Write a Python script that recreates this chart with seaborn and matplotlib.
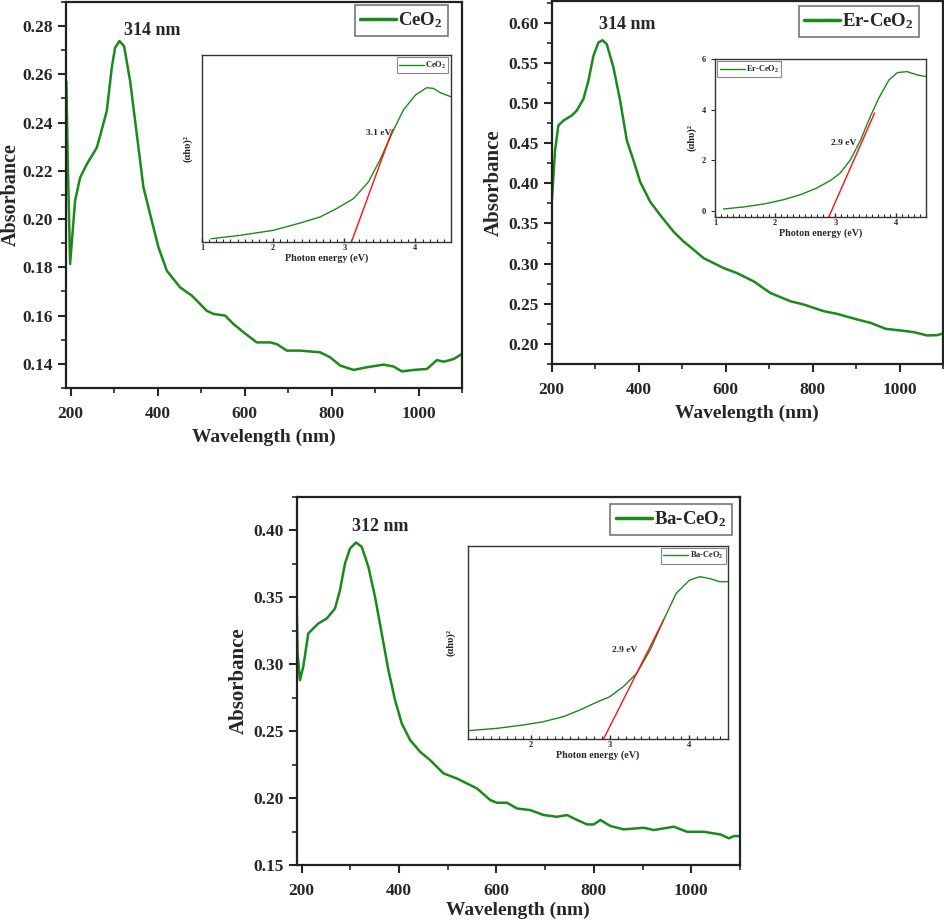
import numpy as np
import pandas as pd
import seaborn as sns
import matplotlib.pyplot as plt
from matplotlib.ticker import MultipleLocator, AutoMinorLocator, NullLocator

# ---- UV-Vis absorbance spectra ----
ceo2_wl = [190, 193, 198.5, 210, 221.5, 236.8, 259.8, 267.5, 282.9, 294.4, 302, 312, 322.7, 336.6,
           351.9, 367.3, 386.4, 401.8, 421, 451.6, 478.5, 513, 528.3, 555.2, 574.4, 597.4, 628,
           658.8, 674, 697, 727.8, 773.8, 796.8, 819.9, 850.6, 881.2, 919.6, 942.6, 961.8, 988.6,
           1019.3, 1042.3, 1057.7, 1080.7, 1099.9]
ceo2_abs = [0.257, 0.225, 0.1814, 0.2076, 0.2172, 0.2227, 0.2296, 0.2345, 0.2448, 0.2628, 0.271,
            0.2738, 0.2717, 0.2572, 0.2352, 0.2131, 0.1993, 0.1883, 0.1786, 0.1717, 0.1683, 0.162,
            0.1607, 0.160, 0.1565, 0.1531, 0.1489, 0.1489, 0.1482, 0.1455, 0.1455, 0.1448, 0.1427,
            0.1393, 0.1375, 0.1386, 0.1397, 0.1389, 0.1369, 0.1375, 0.1379, 0.1416, 0.1409, 0.142,
            0.1441]

er_wl = [200, 207.7, 215.4, 226.9, 246, 257.6, 273, 284.5, 296, 307.5, 316.7, 326.7, 342, 357.4,
         372.8, 388, 403.5, 426.5, 449.5, 480.3, 503.3, 514.8, 549.3, 595.4, 626, 664.5, 702.9,
         749, 779.7, 825.8, 856.5, 902.5, 933.3, 967.8, 1002.3, 1033, 1063.8, 1086.8, 1100]
er_abs = [0.3748, 0.441, 0.472, 0.478, 0.4843, 0.4905, 0.505, 0.5277, 0.5587, 0.5752, 0.5781,
          0.5731, 0.5442, 0.5029, 0.4534, 0.4286, 0.4017, 0.377, 0.3604, 0.3398, 0.3274, 0.3225,
          0.3068, 0.2944, 0.2882, 0.2779, 0.2634, 0.2531, 0.249, 0.2407, 0.2374, 0.2304, 0.2262,
          0.2188, 0.2167, 0.2146, 0.2105, 0.2109, 0.213]

ba_wl = [189.7, 191.8, 196.6, 203.4, 213.7, 220.6, 234.3, 251.4, 268.6, 278.8, 289.1, 299.4,
         311.7, 323.4, 337.1, 350.8, 364.5, 378.2, 391.9, 405.6, 422.8, 443.4, 463.9, 491.3,
         518.8, 559.9, 587.3, 601, 621.6, 642.2, 669.6, 697, 724.4, 745, 765.6, 786.1, 799.8,
         813.5, 834.1, 861.5, 902.6, 923.2, 964.3, 991.7, 1026, 1060.3, 1077.4, 1087.7, 1100]
ba_abs = [0.350, 0.308, 0.288, 0.298, 0.3229, 0.3254, 0.3303, 0.334, 0.3415, 0.3552, 0.3751,
          0.3863, 0.3908, 0.3876, 0.3726, 0.3502, 0.3229, 0.2955, 0.2731, 0.2557, 0.2433, 0.2345,
          0.2283, 0.2184, 0.2146, 0.2072, 0.1985, 0.1965, 0.1965, 0.1922, 0.191, 0.1873, 0.186,
          0.1873, 0.1836, 0.1803, 0.1803, 0.1836, 0.1791, 0.1766, 0.1778, 0.1761, 0.1786, 0.1748,
          0.1748, 0.1728, 0.1699, 0.1716, 0.1716]

# ---- Tauc plots (insets) ----
ceo2_ev = [1.13, 1.53, 2.0, 2.38, 2.66, 2.89, 3.13, 3.34, 3.50, 3.67, 3.83, 4.0, 4.16, 4.25, 4.35, 4.50]
ceo2_tauc = [0.107, 0.214, 0.375, 0.611, 0.804, 1.071, 1.393, 1.929, 2.625, 3.482, 4.232, 4.714,
             4.95, 4.93, 4.79, 4.66]
ceo2_fit_ev = [3.10, 3.68]
ceo2_fit = [0.0, 3.61]

er_ev = [1.14, 1.47, 1.81, 2.14, 2.42, 2.69, 2.92, 3.08, 3.25, 3.42, 3.58, 3.72, 3.89, 4.03, 4.19, 4.36, 4.50]
er_tauc = [0.066, 0.145, 0.263, 0.434, 0.632, 0.895, 1.197, 1.487, 2.013, 2.803, 3.724, 4.447,
           5.171, 5.461, 5.5, 5.368, 5.303]
er_fit_ev = [2.89, 3.65]
er_fit = [-0.25, 3.86]

ba_ev = [1.21, 1.57, 1.90, 2.16, 2.41, 2.62, 2.83, 3.0, 3.17, 3.34, 3.51, 3.68, 3.84, 4.01, 4.14, 4.27, 4.39, 4.49]
ba_tauc = [0.259, 0.331, 0.434, 0.538, 0.693, 0.9, 1.138, 1.314, 1.624, 2.038, 2.762, 3.693,
           4.521, 4.934, 5.038, 4.976, 4.883, 4.883]
ba_fit_ev = [2.92, 3.68]
ba_fit = [0.0, 3.693]

sns.set_style("ticks")
plt.rcParams['font.family'] = ['Liberation Serif', 'DejaVu Serif']
plt.rcParams['font.weight'] = 'bold'
plt.rcParams['axes.labelweight'] = 'bold'
plt.rcParams['mathtext.fontset'] = 'custom'
plt.rcParams['mathtext.rm'] = 'Liberation Serif:bold'
plt.rcParams['mathtext.it'] = 'Liberation Serif:bold'
plt.rcParams['mathtext.bf'] = 'Liberation Serif:bold'

GREEN = '#1b8a1b'
RED = '#ff1010'

fig = plt.figure(figsize=(9.45, 9.21), dpi=100)


def main_panel(rect, wl, ab, label, xlim, ylim, ystep, peak_txt, peak_xy, leg_anchor,
               xpad=5, ypad=3, ysize=15):
    ax = fig.add_axes(rect)
    sns.lineplot(x=wl, y=ab, ax=ax, color=GREEN, lw=1.8, sort=False, estimator=None, label=label)
    ax.set_xlim(*xlim)
    ax.set_ylim(*ylim)
    ax.xaxis.set_major_locator(MultipleLocator(200))
    ax.xaxis.set_minor_locator(MultipleLocator(100))
    ax.yaxis.set_major_locator(MultipleLocator(ystep))
    ax.yaxis.set_minor_locator(AutoMinorLocator(2))
    ax.yaxis.set_major_formatter(plt.FormatStrFormatter('%.2f'))
    ax.tick_params(which='major', direction='out', length=6, width=1.5, labelsize=12.5)
    ax.tick_params(axis='x', which='major', pad=7)
    ax.tick_params(which='minor', direction='out', length=3.5, width=1.2)
    for s in ax.spines.values():
        s.set_linewidth(1.6)
        s.set_color('#222222')
    ax.set_xlabel('Wavelength (nm)', fontsize=14, labelpad=xpad)
    ax.set_ylabel('Absorbance', fontsize=ysize, labelpad=ypad)
    ax.text(peak_xy[0], peak_xy[1], peak_txt, fontsize=13, ha='center', va='center')
    leg = ax.legend(loc='upper right', bbox_to_anchor=leg_anchor, fontsize=13.5, handlelength=1.9,
                    handletextpad=0.1, borderpad=0.3, borderaxespad=0.0, fancybox=False, framealpha=1)
    leg.get_frame().set_edgecolor('#777777')
    leg.get_frame().set_linewidth(1.2)
    for ln in leg.get_lines():
        ln.set_linewidth(2.5)
    return ax


def inset_panel(rect, ev, tauc, fit_ev, fit, label, xlim, ylim, eg_txt, eg_xy, leg_loc, show_y, ypad):
    ax = fig.add_axes(rect)
    sns.lineplot(x=ev, y=tauc, ax=ax, color=GREEN, lw=1.0, sort=False, estimator=None, label=label)
    sns.lineplot(x=fit_ev, y=fit, ax=ax, color=RED, lw=1.0, sort=False, estimator=None)
    ax.set_xlim(*xlim)
    ax.set_ylim(*ylim)
    ax.xaxis.set_major_locator(MultipleLocator(1))
    ax.xaxis.set_minor_locator(MultipleLocator(0.1))
    if show_y:
        ax.yaxis.set_major_locator(MultipleLocator(2))
        ax.tick_params(axis='y', direction='out', length=3, labelsize=6)
    else:
        ax.yaxis.set_major_locator(NullLocator())
    ax.tick_params(axis='x', which='major', direction='in', length=3, width=1, labelsize=6, pad=1.5)
    ax.tick_params(axis='x', which='minor', direction='in', length=2, width=0.8)
    for s in ax.spines.values():
        s.set_linewidth(1.0)
        s.set_color('#333333')
    ax.set_xlabel('Photon energy (eV)', fontsize=7.2, labelpad=1)
    ax.set_ylabel('(αhυ)²', fontsize=7.5, labelpad=ypad)
    ax.text(eg_xy[0], eg_xy[1], eg_txt, fontsize=6.8, ha='right', va='center')
    leg = ax.legend(loc=leg_loc, fontsize=6, handlelength=3, handletextpad=0.2,
                    borderpad=0.25, borderaxespad=0.3, fancybox=False, framealpha=1)
    leg.get_frame().set_edgecolor('#888888')
    leg.get_frame().set_linewidth(0.8)
    return ax


main_panel([0.0698, 0.5787, 0.4191, 0.4192], ceo2_wl, ceo2_abs, 'CeO$_2$',
           (189, 1100), (0.13, 0.29), 0.02, '314 nm', (388, 0.278), (0.965, 0.992),
           ypad=1, ysize=14.5)
main_panel([0.5838, 0.6048, 0.4141, 0.3942], er_wl, er_abs, 'Er-CeO$_2$',
           (200, 1100), (0.175, 0.627), 0.05, '314 nm', (374, 0.598), (0.939, 0.986))
main_panel([0.314, 0.0608, 0.469, 0.3999], ba_wl, ba_abs, 'Ba-CeO$_2$',
           (190, 1100), (0.15, 0.425), 0.05, '312 nm', (362, 0.4025), (0.982, 0.980),
           xpad=2)

inset_panel([0.2138, 0.7372, 0.2634, 0.2031], ceo2_ev, ceo2_tauc, ceo2_fit_ev, ceo2_fit, 'CeO$_2$',
            (1, 4.5), (0, 6), '3.1 eV', (3.66, 3.5), 'upper right', False, 7)
inset_panel([0.7566, 0.7644, 0.223, 0.1716], er_ev, er_tauc, er_fit_ev, er_fit, 'Er-CeO$_2$',
            (1, 4.5), (-0.25, 6), '2.9 eV', (3.35, 2.67), 'upper left', True, 4)
inset_panel([0.4949, 0.1976, 0.2758, 0.2099], ba_ev, ba_tauc, ba_fit_ev, ba_fit, 'Ba-CeO$_2$',
            (1.2, 4.5), (0, 6), '2.9 eV', (3.35, 2.76), 'upper right', False, 9)

fig.savefig('out.png', dpi=100)
